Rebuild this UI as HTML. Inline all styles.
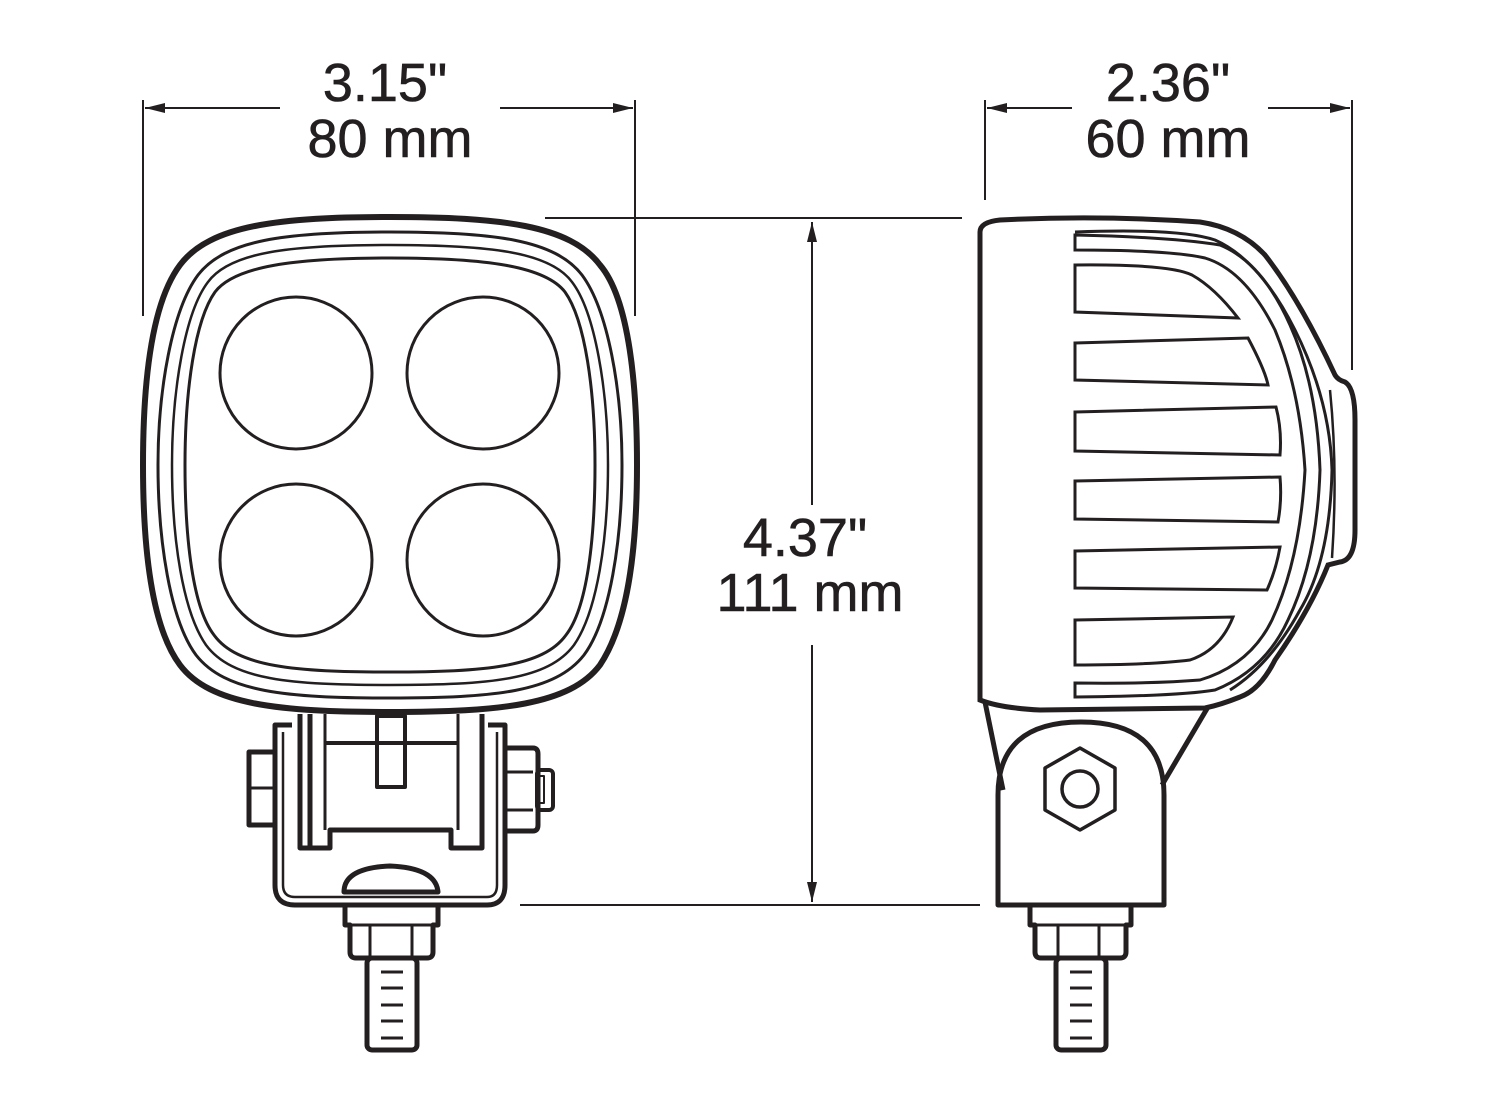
<!DOCTYPE html>
<html><head><style>
html,body{margin:0;padding:0;background:#fff;}
svg{display:block;}
text{font-family:"Liberation Sans",sans-serif;font-size:54px;fill:#231f20;text-anchor:middle;stroke:#231f20;stroke-width:0.6px;}
</style></head><body>
<svg width="1500" height="1111" viewBox="0 0 1500 1111" xmlns="http://www.w3.org/2000/svg">
<defs>
<marker id="ar" viewBox="0 0 20 10" refX="20" refY="5" markerWidth="20" markerHeight="10" markerUnits="userSpaceOnUse" orient="auto">
<path d="M0,0 L20,5 L0,10 Z" fill="#231f20"/></marker>
</defs>
<g stroke="#231f20" fill="none">
<g stroke-width="2">
<line x1="143" y1="100" x2="143" y2="316"/>
<line x1="635" y1="100" x2="635" y2="316"/>
<line x1="280" y1="108" x2="145" y2="108" marker-end="url(#ar)"/>
<line x1="500" y1="108" x2="633" y2="108" marker-end="url(#ar)"/>
<line x1="985" y1="100" x2="985" y2="200"/>
<line x1="1352" y1="100" x2="1352" y2="370"/>
<line x1="1072" y1="108" x2="987" y2="108" marker-end="url(#ar)"/>
<line x1="1268" y1="108" x2="1350" y2="108" marker-end="url(#ar)"/>
<line x1="545" y1="218" x2="962" y2="218"/>
<line x1="520" y1="905" x2="980" y2="905"/>
<line x1="812" y1="505" x2="812" y2="222" marker-end="url(#ar)"/>
<line x1="812" y1="645" x2="812" y2="902" marker-end="url(#ar)"/>
</g>
<path d="M390,217 C500,217 570,225 600,265 C630,300 637,390 637,465 C637,540 630,620 600,665 C570,705 500,712 390,712 C280,712 210,705 180,665 C150,625 143,540 143,465 C143,390 150,305 180,265 C210,225 280,217 390,217 Z" stroke-width="6"/>
<path d="M390,232 C495,232 555,240 582,275 C608,310 622,390 622,465 C622,540 610,620 584,655 C555,692 495,698 390,698 C285,698 225,692 196,655 C170,620 158,540 158,465 C158,390 172,310 198,275 C225,240 285,232 390,232 Z" stroke-width="3"/>
<path d="M390,245 C490,245 550,252 572,282 C595,312 608,390 608,465 C608,540 597,612 574,645 C548,680 490,685 390,685 C290,685 232,680 206,645 C183,612 172,540 172,465 C172,390 185,312 208,282 C230,252 290,245 390,245 Z" stroke-width="2.5"/>
<path d="M390,258 C485,258 545,266 565,292 C585,320 595,390 595,465 C595,540 587,608 566,635 C543,667 485,672 390,672 C295,672 237,667 214,635 C193,608 185,540 185,465 C185,390 195,320 215,292 C235,266 295,258 390,258 Z" stroke-width="3"/>
<circle cx="296" cy="373" r="76" stroke-width="3"/>
<circle cx="483" cy="373" r="76" stroke-width="3"/>
<circle cx="296" cy="560" r="76" stroke-width="3"/>
<circle cx="483" cy="560" r="76" stroke-width="3"/>
<g stroke-width="5" stroke-linejoin="round">
<path d="M300,714 V848 H330 V830 H451 V848 H482 V714"/>
<line x1="310" y1="714" x2="310" y2="848"/>
<path d="M325,714 V830 M458,714 V830" stroke-width="3"/>
<line x1="325" y1="743" x2="458" y2="743" stroke-width="4"/>
<rect x="377" y="716" width="28" height="71" stroke-width="4"/>
<path d="M292,725 H275 V885 Q275,905 295,905 H487 Q505,905 505,885 V725 H488"/>
<path d="M283,732 V885 Q283,897 295,897 H487 Q497,897 497,885 V732" stroke-width="2.5"/>
<rect x="249" y="752" width="26" height="73" stroke-width="5"/>
<line x1="249" y1="788" x2="275" y2="788" stroke-width="3"/>
<path d="M506,748 H533 Q538,748 538,754 V825 Q538,831 533,831 H506"/>
<line x1="506" y1="772" x2="533" y2="772" stroke-width="3"/>
<line x1="506" y1="810" x2="533" y2="810" stroke-width="3"/>
<rect x="537" y="770" width="16" height="40" rx="4" stroke-width="4"/>
<rect x="539" y="776" width="5" height="27" stroke-width="2"/>
<path d="M344,892 Q344,868 390,866 Q436,868 438,892 Z" stroke-width="5"/>
<path d="M345,907 V925 H350 V952 Q350,958 356,958 H427 Q433,958 433,952 V925 H438 V907"/>
<line x1="350" y1="925" x2="433" y2="925" stroke-width="3"/>
<line x1="370" y1="925" x2="370" y2="958" stroke-width="3"/>
<line x1="412" y1="925" x2="412" y2="958" stroke-width="3"/>
<rect x="367" y="958" width="50" height="92" rx="5" stroke-width="5"/>
<g stroke-width="3"><line x1="381" y1="972" x2="403" y2="972"/><line x1="381" y1="988" x2="403" y2="988"/><line x1="381" y1="1005" x2="403" y2="1005"/><line x1="381" y1="1021" x2="403" y2="1021"/><line x1="381" y1="1038" x2="403" y2="1038"/></g>
</g>
<path d="M980,700 V232 Q980,222 1000,220 Q1100,215 1200,222 Q1240,228 1265,255 Q1300,300 1335,375 Q1338,380 1345,382 Q1355,388 1355,420 V530 Q1355,560 1340,562 L1328,565 Q1310,610 1275,660 Q1260,690 1240,697 Q1220,705 1205,708 L1040,710 Q1000,708 980,700 Z" stroke-width="5"/>
<path d="M1075,232 Q1180,228 1215,240 Q1260,260 1295,330 Q1330,400 1332,470 Q1330,560 1300,610 Q1270,665 1230,690" stroke-width="3"/>
<path d="M1330,390 Q1338,470 1332,558" stroke-width="2.5"/>
<g stroke-width="3">
<path d="M1075,235 V250 Q1170,250 1205,258 Q1245,270 1275,330 Q1300,390 1305,470 Q1300,560 1272,620 Q1250,665 1200,680 Q1150,684 1075,683 V697 Q1180,696 1215,690 Q1265,670 1288,620 Q1317,560 1320,470 Q1317,385 1290,325 Q1262,262 1220,245 Q1170,237 1075,235 Z"/>
<path d="M1075,265 Q1170,264 1192,275 Q1215,288 1238,318 L1075,312 Z"/>
<path d="M1075,343 L1248,338 Q1265,370 1268,385 L1075,380 Z"/>
<path d="M1075,412 L1276,407 Q1282,430 1280,455 L1075,451 Z"/>
<path d="M1075,481 L1280,477 Q1282,500 1278,522 L1075,519 Z"/>
<path d="M1075,551 L1280,547 Q1276,570 1267,590 L1075,588 Z"/>
<path d="M1075,620 L1233,617 Q1220,650 1190,660 Q1150,665 1075,665 Z"/>
</g>
<g stroke-width="5" stroke-linejoin="round">
<path d="M985,702 L1003,790"/>
<path d="M1208,707 L1162,785"/>
<path d="M998,905 V795 Q998,722 1081,722 Q1164,722 1164,795 V905 Z"/>
<polygon points="1080,748 1115,768 1115,810 1080,830 1045,810 1045,768" stroke-width="3.5"/>
<circle cx="1080" cy="789" r="18" stroke-width="3.5"/>
<path d="M1030,907 V925 H1035 V952 Q1035,958 1041,958 H1120 Q1126,958 1126,952 V925 H1131 V907"/>
<line x1="1035" y1="925" x2="1126" y2="925" stroke-width="3"/>
<line x1="1058" y1="925" x2="1058" y2="958" stroke-width="3"/>
<line x1="1099" y1="925" x2="1099" y2="958" stroke-width="3"/>
<rect x="1056" y="958" width="50" height="92" rx="5"/>
<g stroke-width="3"><line x1="1070" y1="972" x2="1092" y2="972"/><line x1="1070" y1="988" x2="1092" y2="988"/><line x1="1070" y1="1005" x2="1092" y2="1005"/><line x1="1070" y1="1021" x2="1092" y2="1021"/><line x1="1070" y1="1038" x2="1092" y2="1038"/></g>
</g>
</g>
<text x="385" y="101">3.15"</text>
<text x="390" y="157">80 mm</text>
<text x="1168" y="101">2.36"</text>
<text x="1168" y="157">60 mm</text>
<text x="805" y="556">4.37"</text>
<text x="810" y="611">111 mm</text>
</svg>
</body></html>
